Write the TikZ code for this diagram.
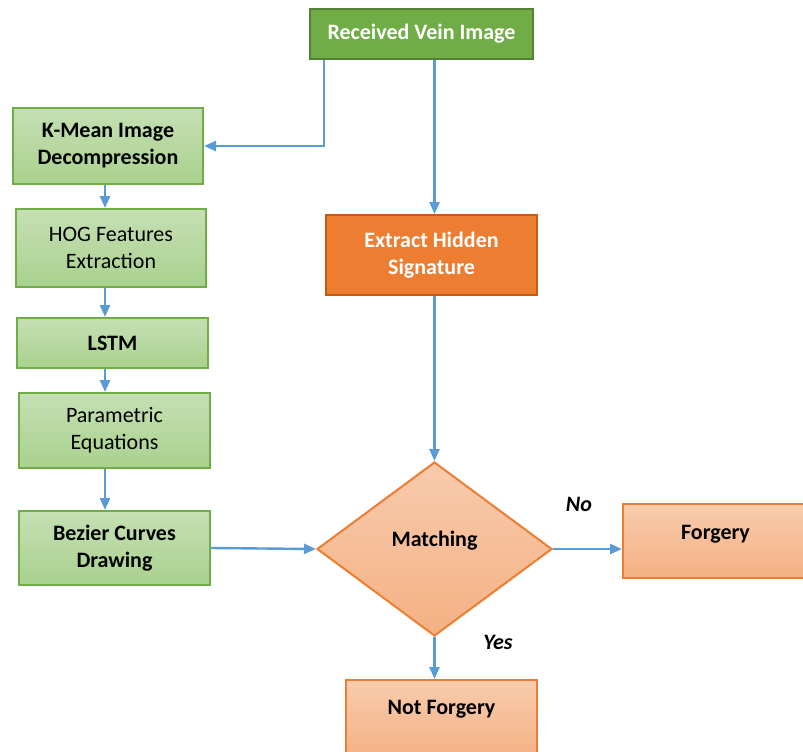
\documentclass[tikz,border=0pt]{standalone}
\usepackage{fontspec}
\setmainfont{Carlito}
\usetikzlibrary{arrows.meta,shapes.geometric}
\definecolor{vgreen}{HTML}{70AD47}
\definecolor{vgreendk}{HTML}{548235}
\definecolor{vgreenlt}{HTML}{C5E0B4}
\definecolor{vgreenmd}{HTML}{A9D18E}
\definecolor{vorange}{HTML}{ED7D31}
\definecolor{vorangedk}{HTML}{C55A11}
\definecolor{vorangelt}{HTML}{F8CBAD}
\definecolor{vorangemd}{HTML}{F4B183}
\definecolor{vblue}{HTML}{5B9BD5}
\begin{document}
\fontsize{11}{13.5}\selectfont
\begin{tikzpicture}[>={Triangle[length=6pt,width=5pt]},x=0.5pt,y=-0.5pt,
  darkg/.style={draw=vgreendk,fill=vgreen,text=white,font=\bfseries,line width=1pt,align=center,inner sep=0pt},
  lightg/.style={draw=vgreen,top color=vgreenlt,bottom color=vgreenmd,line width=1pt,align=center,inner sep=0pt},
  darko/.style={draw=vorangedk,fill=vorange,text=white,font=\bfseries,line width=1pt,align=center,inner sep=0pt},
  lighto/.style={draw=vorange,top color=vorangelt,bottom color=vorangemd,font=\bfseries,line width=1pt,align=center,inner sep=0pt},
  flow/.style={->,draw=vblue,line width=1.2pt},
  lbl/.style={font=\bfseries\itshape}]
\useasboundingbox (0,0) rectangle (803,751);
% boxes, placed at pixel positions
\node[darkg,minimum width=111.5pt,minimum height=25pt] (recv) at (421.5,34) {Received Vein Image};
\node[lightg,font=\bfseries,minimum width=95pt,minimum height=38pt] (kmean) at (108,146) {K-Mean Image\\Decompression};
\node[lightg,minimum width=95pt,minimum height=39pt] (hog) at (111,248) {HOG Features\\Extraction};
\node[lightg,font=\bfseries,minimum width=95.5pt,minimum height=25pt] (lstm) at (112.5,343) {LSTM};
\node[lightg,minimum width=95.5pt,minimum height=37.5pt] (param) at (114.5,430.5) {Parametric\\Equations};
\node[lightg,font=\bfseries,minimum width=95.5pt,minimum height=37pt] (bezier) at (114.5,548) {Bezier Curves\\Drawing};
\node[darko,minimum width=105.5pt,minimum height=40pt] (extract) at (431.5,255) {Extract Hidden\\Signature};
\node[lighto,diamond,minimum width=117.5pt,minimum height=87pt,text height=8pt,text depth=11pt] (match) at (434.5,549) {Matching};
\node[lighto,anchor=north,minimum width=92.5pt,text height=17.5pt,text depth=19.5pt] (forg) at (715.5,503) {Forgery};
\node[lighto,anchor=north,minimum width=95.5pt,text height=17pt,text depth=23.5pt] (notforg) at (441.5,679) {Not Forgery};
\node[lbl] (no) at (579,504) {No};
\node[lbl] (yes) at (498,642) {Yes};
% connectors
\draw[flow] ([xshift=7.5pt]recv.south west) |- (kmean.east);
\draw[flow] (recv.south -| match.north) -- (extract.north -| match.north);
\draw[flow] (extract.south -| match.north) -- (match.north);
\draw[flow] ([xshift=-1.5pt]kmean.south) -- ([xshift=-1.5pt]kmean.south |- hog.north);
\draw[flow] ([xshift=-1.5pt]kmean.south |- hog.south) -- ([xshift=-1.5pt]kmean.south |- lstm.north);
\draw[flow] ([xshift=-1.5pt]kmean.south |- lstm.south) -- ([xshift=-1.5pt]kmean.south |- param.north);
\draw[flow] ([xshift=-1.5pt]kmean.south |- param.south) -- ([xshift=-1.5pt]kmean.south |- bezier.north);
\draw[flow] (bezier.east) -- (match.west);
\draw[flow] (match.east) -- (match.east -| forg.west);
\draw[flow] (match.south) -- (match.south |- notforg.north);
\end{tikzpicture}
\end{document}
